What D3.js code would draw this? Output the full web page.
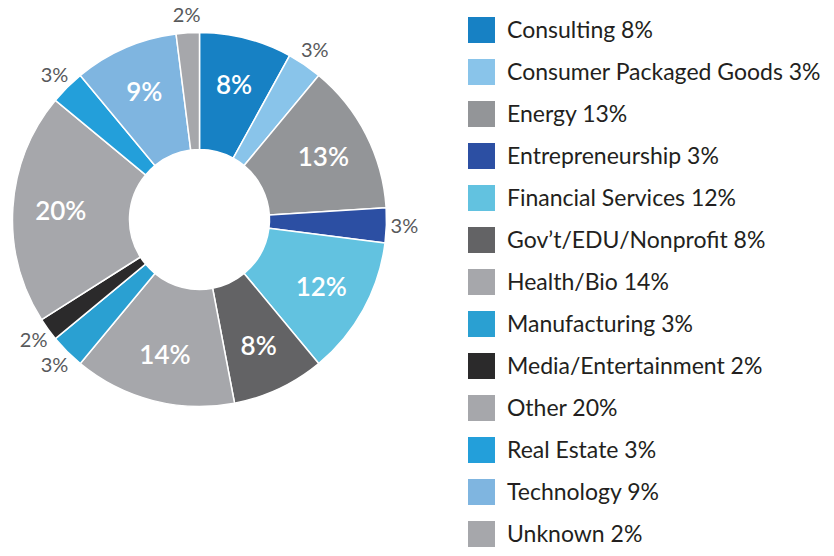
<!DOCTYPE html>
<html><head><meta charset="utf-8">
<script src="https://cdn.jsdelivr.net/npm/d3@7"></script>
<style>body{margin:0;background:#fff;}svg{display:block;font-family:Lato,"Open Sans",sans-serif;}</style>
</head><body>
<svg id="c" width="834" height="556"></svg>
<script>
const categories = ["Consulting","Consumer Packaged Goods","Energy","Entrepreneurship","Financial Services","Gov’t/EDU/Nonprofit","Health/Bio","Manufacturing","Media/Entertainment","Other","Real Estate","Technology","Unknown"];
const values = [8,3,13,3,12,8,14,3,2,20,3,9,2];
const colors = ["#1781c4","#89c4ea","#939598","#2c4fa3","#62c2e0","#636365","#a6a7ab","#2aa0d2","#2b2a2b","#a6a7ab","#239fda","#7fb5e0","#a6a7ab"];
const outsideLabel = [false,true,false,true,false,false,false,true,true,false,true,false,true];

const svg = d3.select("#c");
const cx = 199.5, cy = 219.5, rOuter = 187, rInner = 70;
const data = categories.map((c,i)=>({name:c,value:values[i],color:colors[i],outside:outsideLabel[i]}));
const pie = d3.pie().value(d=>d.value).sort(null);
const arcs = pie(data);
const arc = d3.arc().innerRadius(rInner).outerRadius(rOuter);
const g = svg.append("g").attr("transform",`translate(${cx},${cy})`);
g.selectAll("path").data(arcs).join("path")
  .attr("d",arc).attr("fill",d=>d.data.color)
  .attr("stroke","#fff").attr("stroke-width",1.5).attr("stroke-linejoin","round");

const inArc = d3.arc().innerRadius(139).outerRadius(139);
const outArc = d3.arc().innerRadius(205).outerRadius(205);
g.selectAll("text.lab").data(arcs).join("text")
  .attr("class","lab")
  .attr("transform",d=>{const p=(d.data.outside?outArc:inArc).centroid(d);return `translate(${p[0]},${p[1]})`;})
  .attr("text-anchor","middle").attr("dy","0.36em")
  .attr("fill",d=>d.data.outside?"#58595b":"#fff")
  .attr("font-size",d=>d.data.outside?20:26)
  .attr("font-weight",d=>d.data.outside?400:600)
  .text(d=>d.data.value+"%");

const y = d3.scalePoint().domain(categories).range([30,534]);
const leg = svg.append("g");
const item = leg.selectAll("g").data(data).join("g")
  .attr("transform",d=>`translate(468,${y(d.name)})`);
item.append("rect").attr("x",0).attr("y",-13).attr("width",27).attr("height",26).attr("fill",d=>d.color);
item.append("text").attr("x",39).attr("y",8).attr("font-size",23).attr("fill","#231f20")
  .text(d=>`${d.name} ${d.value}%`);
</script>
</body></html>
